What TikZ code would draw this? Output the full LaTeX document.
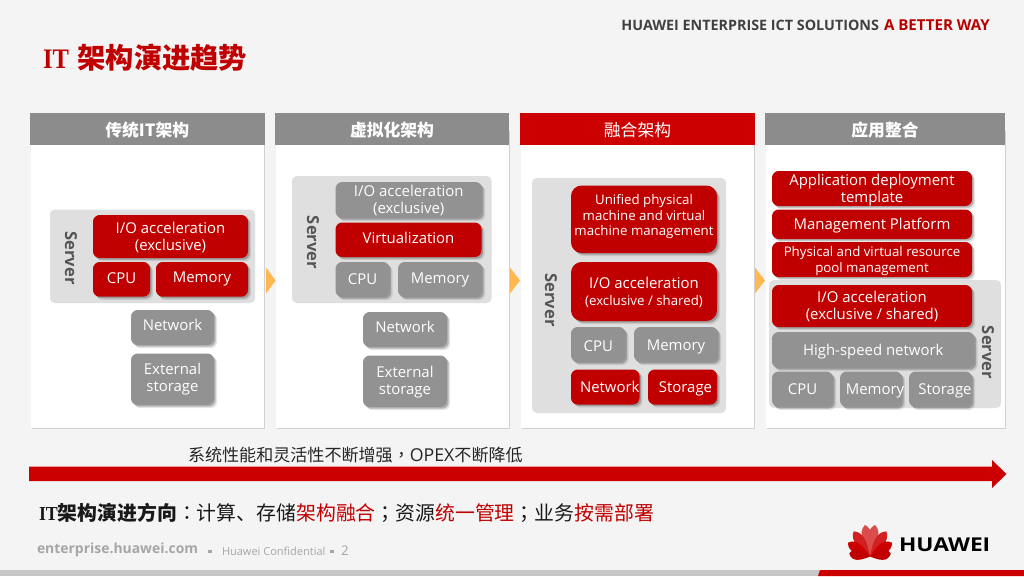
\documentclass[tikz,border=0pt]{standalone}
\usepackage{fontspec}
\usepackage{graphicx}
\setmainfont{Open Sans}
\newfontfamily\cjk{Noto Sans CJK SC}
\newfontfamily\cjkp{Noto Sans CJK TC}
\newfontfamily\ser{Liberation Serif}
\usetikzlibrary{shadows}
\definecolor{bgc}{HTML}{F4F4F4}
\definecolor{hred}{HTML}{CC0000}
\definecolor{bred}{HTML}{C00000}
\definecolor{hgrey}{HTML}{8C8C8C}
\definecolor{bgrey}{HTML}{929292}
\definecolor{srv}{HTML}{DFDFDF}
\definecolor{srvt}{HTML}{555555}
\definecolor{foot}{HTML}{A6A6A6}
\definecolor{chevc}{HTML}{FFB850}
\newcommand{\bx}[7][]{\node[#1,minimum width={(#4-#2)*0.75pt},minimum height={(#5-#3)*0.75pt}] (#6) at ({(#2+#4)/2},{(#3+#5)/2}) {#7};}
\newcommand{\lbl}[5][]{\node[#1] (#4) at (#2,#3) {#5};}
\newsavebox{\mvb}
% move text by dx,dy pixels (y downward) without changing its box
\newcommand{\mv}[3]{\sbox{\mvb}{#3}\raisebox{-#2\dimexpr 0.75pt\relax}[\ht\mvb][\dp\mvb]{\kern #1\dimexpr 0.75pt\relax\usebox{\mvb}\kern -#1\dimexpr 0.75pt\relax}}
\newcommand{\ml}[1]{\begin{tabular}{@{}c@{}}#1\end{tabular}}
\tikzset{
  base/.style={inner sep=0pt,outer sep=0pt,align=center},
  bshadow/.style={
    drop shadow={shadow xshift=2.4pt,shadow yshift=-2.4pt,opacity=.10,fill=black},
    drop shadow={shadow xshift=1.3pt,shadow yshift=-1.3pt,opacity=.22,fill=black}},
  redbox/.style={base,bshadow,fill=bred,text=white,rounded corners=5pt,font=\fontsize{11.2}{12.8}\selectfont},
  greybox/.style={base,bshadow,fill=bgrey,text=white,rounded corners=5pt,font=\fontsize{11.2}{12.8}\selectfont},
  smalltxt/.style={font=\fontsize{9.95}{11.6}\selectfont},
  bigcorner/.style={rounded corners=8pt},
  panel/.style={base,fill=white,drop shadow={shadow xshift=0.8pt,shadow yshift=-0.8pt,opacity=.14,fill=black}},
  headg/.style={base,fill=hgrey,text=white,font=\fontsize{12.6}{14}\selectfont\cjk\bfseries},
  headr/.style={base,fill=hred,text=white,font=\fontsize{12.6}{14}\selectfont\cjk},
  server/.style={base,fill=srv,rounded corners=3.5pt},
  srvlabel/.style={base,text=srvt,rotate=-90,font=\fontsize{12.4}{14}\selectfont\bfseries},
  chev/.style={fill=chevc},
  foottxt/.style={base,anchor=west,text=foot},
}
\begin{document}
\begin{tikzpicture}[x=0.75pt,y=-0.75pt]
\useasboundingbox (0,0) rectangle (1024,576);
\fill[bgc] (0,0) rectangle (1024,576);
% bottom strip
\fill[black!22] (0,570) rectangle (822,576);
\fill[hred] (820,570) -- (1024,570) -- (1024,576) -- (818,576) -- cycle;
% top texts
\lbl[base,anchor=east,font=\fontsize{10.75}{12}\selectfont\bfseries,text=black!75]{879}{25}{tagA}{HUAWEI ENTERPRISE ICT SOLUTIONS}
\lbl[base,anchor=west,font=\fontsize{11.3}{12}\selectfont\bfseries,text=hred!90!black]{884}{25}{tagB}{A BETTER WAY}
\lbl[base,anchor=west,text=bred,font=\fontsize{21.2}{24}\selectfont]{43}{58}{title}{\scalebox{.87}[1]{\ser\bfseries IT}\hspace{6.4pt}{\cjk\bfseries 架构演进趋势}}
% panels
\bx[panel]{31}{130}{264}{427.5}{p1}{}
\bx[panel]{276}{130}{508.5}{427.5}{p2}{}
\bx[panel]{520.5}{130}{754}{427.5}{p3}{}
\bx[panel]{765.5}{130}{1004.5}{427.5}{p4}{}
\bx[headg]{30}{113}{264.5}{145}{h1}{\mv{0}{1}{传统IT架构}}
\bx[headg]{275}{113}{509}{145}{h2}{\mv{0}{1}{虚拟化架构}}
\bx[headr]{520}{113}{755}{145}{h3}{\mv{0}{1}{融合架构}}
\bx[headg]{765}{113}{1005}{145}{h4}{\mv{0}{1}{应用整合}}
% chevrons
\fill[chev] (266,267.5) -- (275.5,280.5) -- (266,293.5) -- cycle;
\fill[chev] (510,267.5) -- (520,280.5) -- (510,293.5) -- cycle;
\fill[chev] (755,267.5) -- (765,280.5) -- (755,293.5) -- cycle;
% panel 1
\bx[server]{50}{209.5}{255}{303}{s1}{}
\lbl[srvlabel]{71}{258}{s1l}{Server}
\bx[redbox]{93}{215}{248}{258}{a1}{\mv{0}{2}{\ml{I/O acceleration\\(exclusive)}}}
\bx[redbox]{93}{262}{150}{296.7}{a2}{\mv{0}{-1}{CPU}}
\bx[redbox]{156}{262}{248}{296.7}{a3}{Memory}
\bx[greybox]{131}{310}{214}{345}{a4}{\mv{0}{-3}{Network}}
\bx[greybox]{131}{353.5}{214}{405}{a5}{\ml{External\\storage}}
% panel 2
\bx[server]{292}{176}{491.5}{303}{s2}{}
\lbl[srvlabel]{313}{242.5}{s2l}{Server}
\bx[greybox]{335.5}{182}{482}{218}{b1}{\mv{0}{2}{\ml{I/O acceleration\\(exclusive)}}}
\bx[redbox]{335.5}{222.5}{481.5}{257}{b2}{\mv{0}{-2}{Virtualization}}
\bx[greybox]{335.5}{262}{389.5}{297}{b3}{CPU}
\bx[greybox]{398}{262}{482}{297}{b4}{Memory}
\bx[greybox]{363}{312}{447}{347}{b5}{\mv{0}{-2.5}{Network}}
\bx[greybox]{363}{355.5}{447}{407}{b6}{\mv{0}{1}{\ml{External\\storage}}}
% panel 3
\bx[server]{532}{178}{726}{413}{s3}{}
\lbl[srvlabel]{551}{300}{s3l}{Server}
\bx[redbox,bigcorner,smalltxt]{571}{185.5}{717}{253}{c1}{\mv{0}{-2}{\ml{Unified physical\\machine and virtual\\machine management}}}
\bx[redbox,bigcorner,smalltxt]{571}{262}{717}{321}{c2}{\mv{0}{2.5}{\ml{{\fontsize{11.2}{12.8}\selectfont I/O acceleration}\\[1pt](exclusive / shared)}}}
\bx[greybox]{571}{327}{625.5}{362}{c3}{\mv{0}{2}{CPU}}
\bx[greybox]{634}{327}{718}{362}{c4}{\mv{0}{2}{Memory}}
\bx[redbox]{571}{369.5}{639.5}{404.5}{c5}{\mv{4.5}{0}{Network}}
\bx[redbox]{648}{369.5}{717}{404.5}{c6}{\mv{3}{2}{Storage}}
% panel 4
\bx[server]{769}{280}{1001}{408}{s4}{}
\lbl[srvlabel]{988}{352.5}{s4l}{Server}
\bx[redbox]{772}{171}{972}{206}{d1}{\mv{0}{2}{\ml{Application deployment\\template}}}
\bx[redbox]{772}{209.5}{972}{239}{d2}{\mv{0}{1.5}{Management Platform}}
\bx[redbox,smalltxt]{772}{242}{972}{277}{d3}{\mv{0}{2}{\ml{Physical and virtual resource\\pool management}}}
\bx[redbox]{772}{285}{972}{327}{d4}{\mv{0}{2}{\ml{I/O acceleration\\(exclusive / shared)}}}
\bx[greybox]{772}{332}{974.5}{368}{d5}{\mv{0}{2}{High-speed network}}
\bx[greybox]{772}{371.5}{833}{407}{d6}{CPU}
\bx[greybox]{840}{371.5}{902}{407}{d7}{\mv{4}{2}{Memory}}
\bx[greybox]{909}{371.5}{972}{407}{d8}{\mv{4.5}{2}{Storage}}
% big arrow
\lbl[base,anchor=west,text=black!85,font=\fontsize{12.8}{15}\selectfont\cjk]{188}{455}{trend}{系统性能和灵活性不断增强{\cjkp ，}{\fontspec{Open Sans}\fontsize{13.3}{15}\selectfont OPEX}不断降低}
\fill[hred] (29,466.7) -- (992,466.7) -- (992,460) -- (1006.5,474) -- (992,488) -- (992,481) -- (29,481) -- cycle;
% bottom line
\lbl[base,anchor=west,text=black!90,font=\fontsize{14.9}{18}\selectfont\cjk]{39}{513}{dir}{\scalebox{.9}[1]{\ser\bfseries IT}{\bfseries 架构演进方向}{\cjkp ：}计算、存储{\color{bred}架构融合}{\cjkp ；}资源{\color{bred}统一管理}{\cjkp ；}业务{\color{bred}按需部署}}
% footer
\lbl[foottxt,font=\fontsize{10.45}{12}\selectfont\bfseries]{37}{550}{f1}{enterprise.huawei.com}
\fill[foot] (208,549.5) rectangle (212,553);
\lbl[foottxt,font=\fontsize{8.25}{10}\selectfont]{222}{551}{f2}{Huawei Confidential}
\fill[foot] (330,549.5) rectangle (334,553);
\lbl[foottxt,font=\fontsize{10}{12}\selectfont]{341}{551}{f3}{2}
% logo
\begin{scope}[shift={(870,556.5)},x=0.75pt,y=0.75pt]
\foreach \a/\l/\c in {9/32/hred!70!white,-9/32/hred!70!white,33/30/hred!88!white,-33/30/hred!88!white,58/26/hred,-58/26/hred,82/21/bred,-82/21/bred}{
  \begin{scope}[rotate=\a]
  \fill[\c] (0,0) .. controls (-5,{\l*0.4}) and (-8.5,{\l*0.8}) .. (0,\l) .. controls (8.5,{\l*0.8}) and (5,{\l*0.4}) .. (0,0) -- cycle;
  \end{scope}
}
\end{scope}
\lbl[base,anchor=west,text=black,font=\fontsize{14.3}{16}\selectfont\bfseries]{899}{544.5}{logo}{\scalebox{1.19}[1]{HUAWEI}}
\end{tikzpicture}
\end{document}
